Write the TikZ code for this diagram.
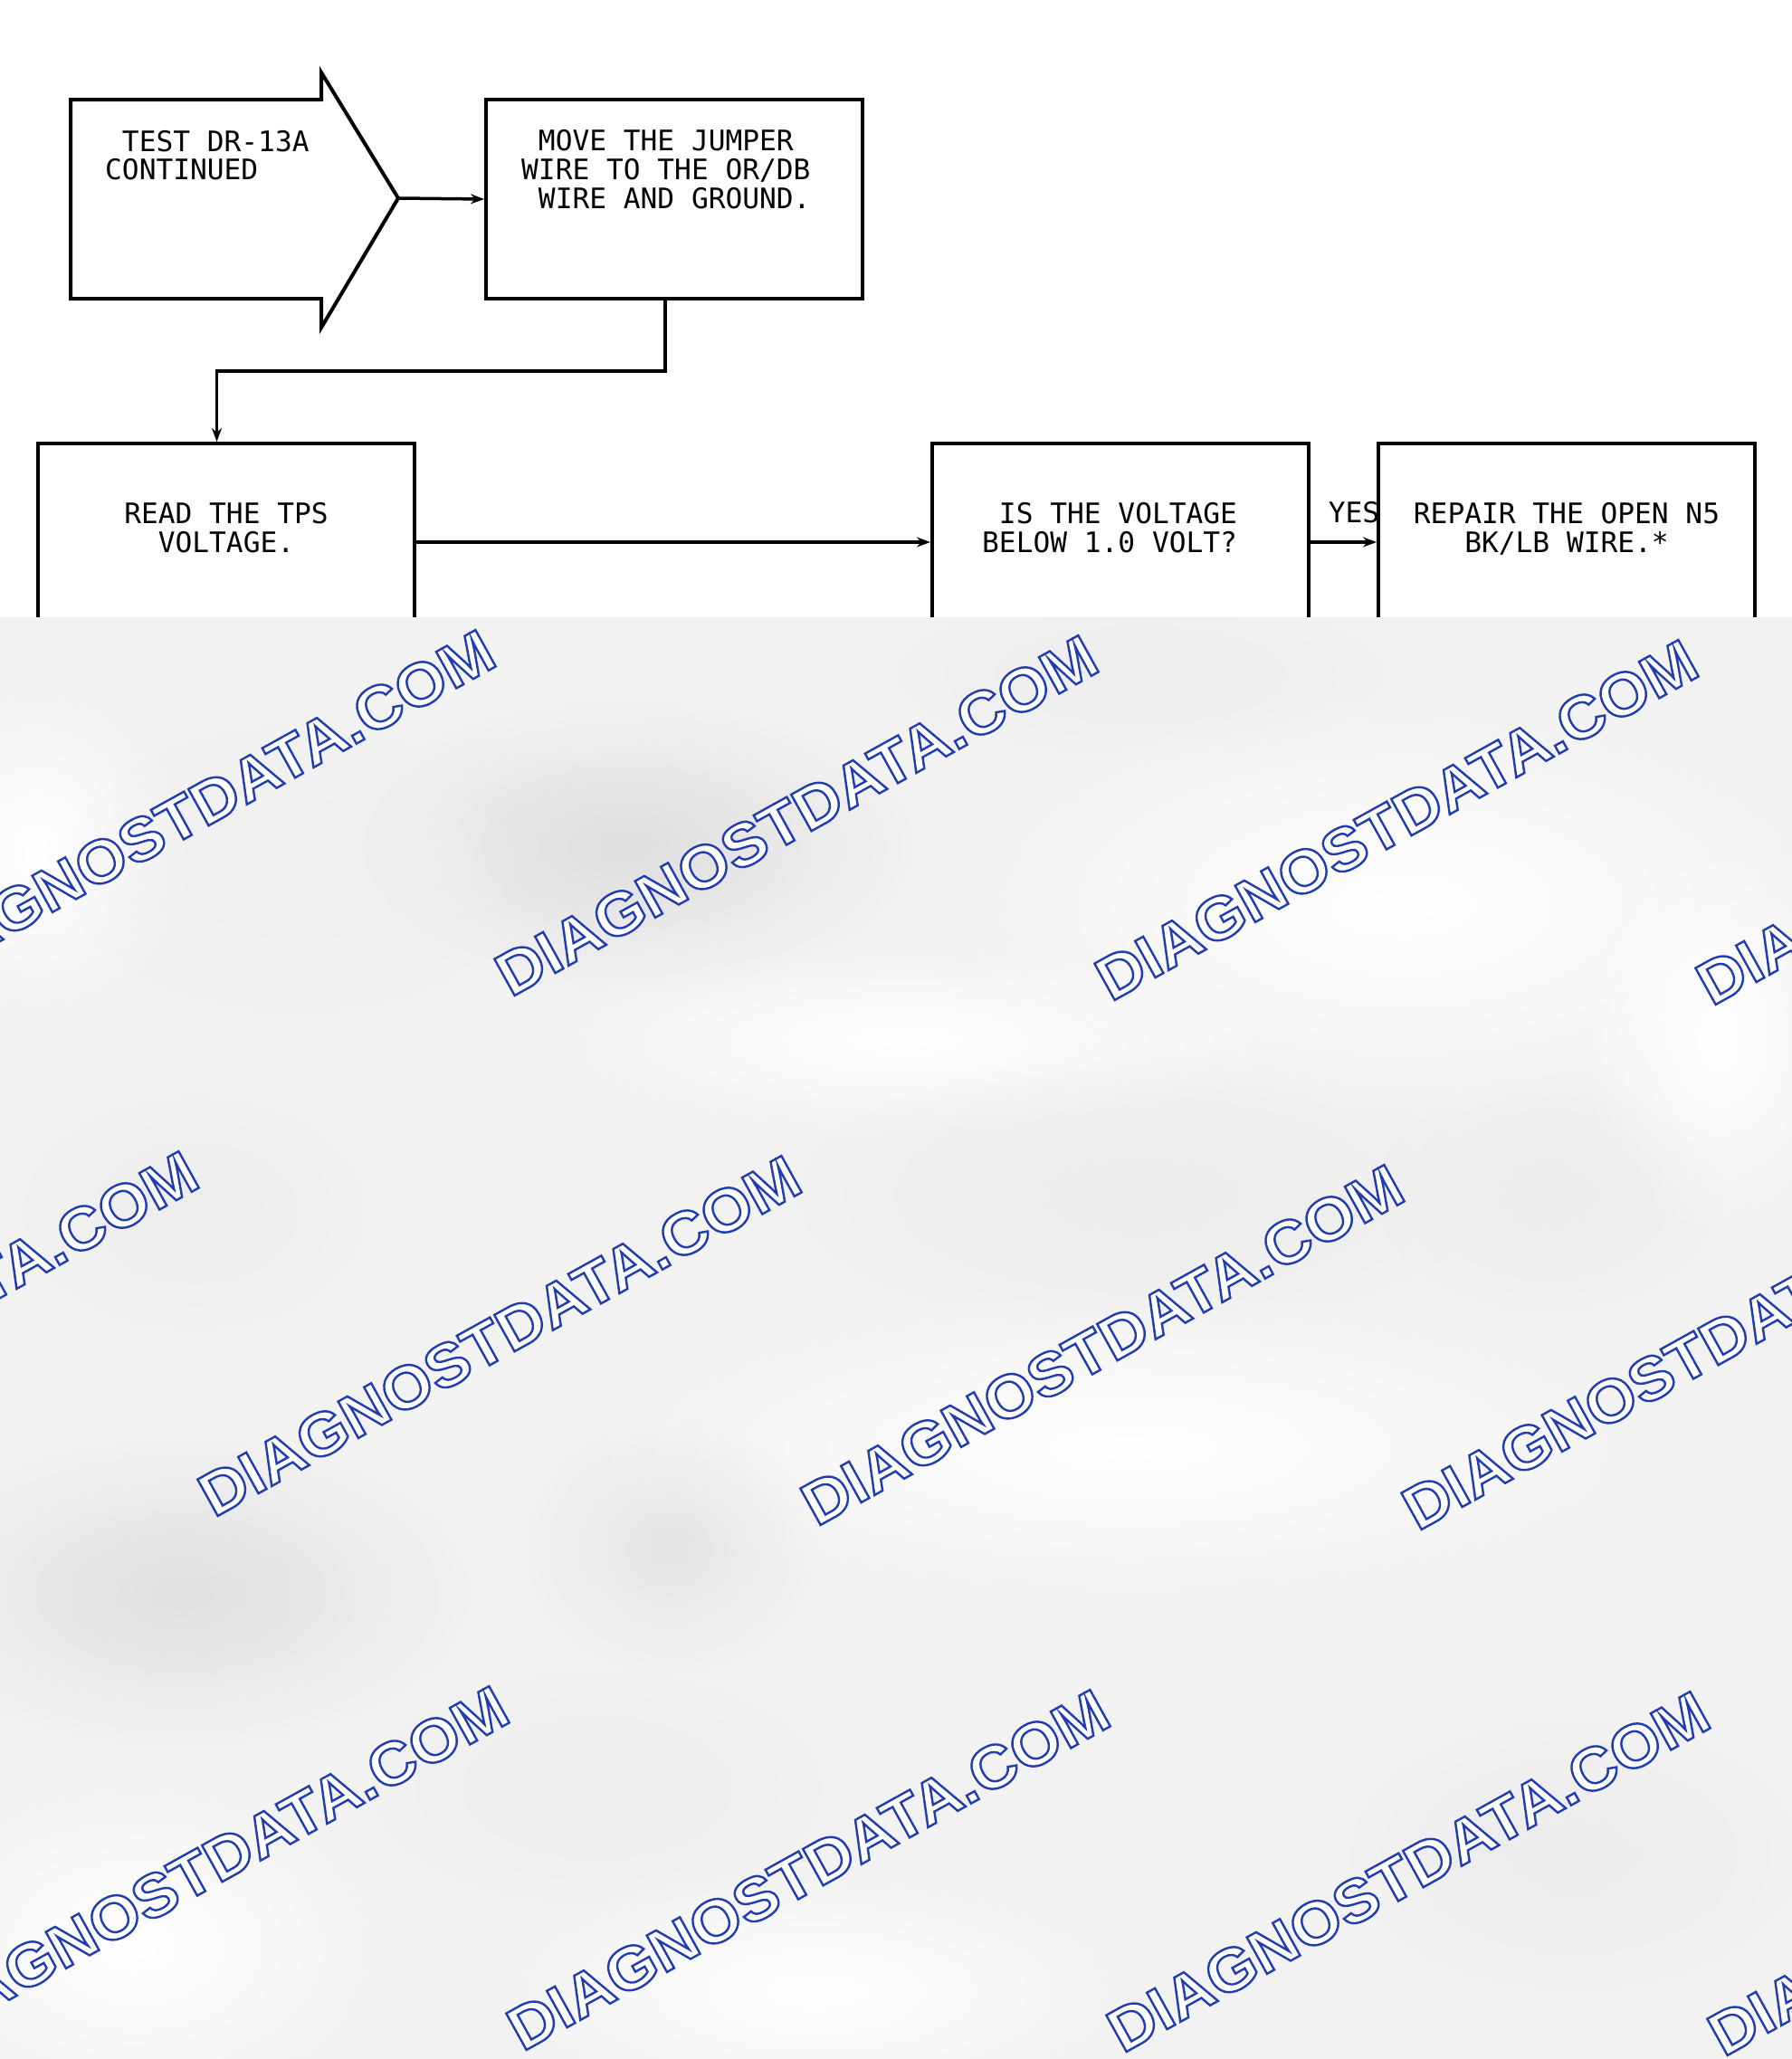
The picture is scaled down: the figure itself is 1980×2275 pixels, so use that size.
\documentclass[tikz,border=0pt]{standalone}
\usepackage{fontspec}
\usetikzlibrary{arrows.meta,fadings}
\newfontfamily\cadfont{DejaVu Sans Mono}
\newfontfamily\wmfont{Liberation Sans Bold}[FakeStretch=1.06,FakeBold=3.6]
\definecolor{wmblue}{RGB}{38,66,178}
\definecolor{bggray}{RGB}{242,242,242}
\newcommand\wmstroke{\special{pdf:literal direct 0.13 0.24 0.68 RG}}
\tikzfading[name=blobfade, inner color=transparent!0, outer color=transparent!100]
\begin{document}
\begin{tikzpicture}[x=1pt,y=-1pt,
  box/.style={draw, line width=4pt, minimum width=416, minimum height=218, inner sep=0},
  outline/.style={draw, line width=4pt, line join=miter},
  conn/.style={line width=3.5pt, -{Stealth[length=15pt,width=11pt]}},
  txt/.style={inner sep=0, font=\cadfont\fontsize{31.2}{32}\selectfont},
  wm/.style={inner sep=0, rotate=29, text=white, font=\wmfont\fontsize{67}{67}\selectfont},
  gblob/.style={fill=black!#1, path fading=blobfade},
  wblob/.style={fill=white, path fading=blobfade}]
\useasboundingbox (0,0) rectangle (1980,2275);
\fill[white] (0,0) rectangle (1980,2275);

% start arrow
\draw[outline] (78,110) -- (355,110) -- (355,80) -- (440,219) -- (355,362) -- (355,330) -- (78,330) -- cycle;
\coordinate (starttip) at (440,219);
\node[txt, anchor=base west] (s1) at (116,167) {\ TEST DR-13A};
\node[txt, anchor=base west] (s2) at (116,198) {CONTINUED};

% boxes
\node[box, minimum height=220] (b2) at (745,220) {};
\node[box] (b3) at (249.5,599) {};
\node[box] (b4) at (1238,599) {};
\node[box] (b5) at (1731,599) {};

\node[txt, anchor=base west] (m1) at (576,166) {\ MOVE THE JUMPER};
\node[txt, anchor=base west] (m2) at (576,198) {WIRE TO THE OR/DB};
\node[txt, anchor=base west] (m3) at (576,230) {\ WIRE AND GROUND.};

\node[txt, anchor=base] (r1) at (250,578) {READ THE TPS};
\node[txt, anchor=base] (r2) at (250,610) {VOLTAGE.};

\node[txt, anchor=base west] (q1) at (1085,578) {\ IS THE VOLTAGE};
\node[txt, anchor=base west] (q2) at (1085,610) {BELOW 1.0 VOLT?};

\node[txt, anchor=base] (p1) at (1731,578) {REPAIR THE OPEN N5};
\node[txt, anchor=base] (p2) at (1731,610) {BK/LB WIRE.*};

\node[txt, anchor=base] (yes) at (1496,577) {YES};

% connectors
\draw[conn] (starttip) -- (b2.west);
\draw[conn] ([xshift=-10pt]b2.south) -- ++(0,78) -| ([xshift=-10pt]b3.north);
\draw[conn] (b3.east) -- (b4.west);
\draw[conn] (b4.east) -- (b5.west);

% watermark layer
\fill[bggray] (0,682) rectangle (1980,2275);
\begin{scope}
\clip (0,682) rectangle (1980,2275);
\fill[wblob] (1550,1000) ellipse [x radius=520, y radius=240];
\fill[wblob] (1000,1150) ellipse [x radius=420, y radius=110];
\fill[wblob] (1250,1600) ellipse [x radius=620, y radius=180];
\fill[wblob] (40,940) ellipse [x radius=170, y radius=200];
\fill[wblob] (900,2200) ellipse [x radius=380, y radius=140];
\fill[wblob] (1900,1150) ellipse [x radius=160, y radius=220];
\fill[wblob] (150,2150) ellipse [x radius=300, y radius=200];
\fill[gblob=13] (690,935) ellipse [x radius=320, y radius=160];
\fill[gblob=6] (330,960) ellipse [x radius=260, y radius=160];
\fill[gblob=12] (200,1760) ellipse [x radius=320, y radius=170];
\fill[gblob=10] (740,1710) ellipse [x radius=160, y radius=140];
\fill[gblob=8] (1260,1320) ellipse [x radius=380, y radius=150];
\fill[gblob=8] (1710,1320) ellipse [x radius=190, y radius=130];
\fill[gblob=7] (215,1340) ellipse [x radius=190, y radius=130];
\fill[gblob=7] (660,1975) ellipse [x radius=250, y radius=130];
\fill[gblob=8] (1740,2050) ellipse [x radius=250, y radius=150];
\fill[gblob=7] (1260,745) ellipse [x radius=270, y radius=90];
\fill[gblob=5] (600,760) ellipse [x radius=210, y radius=90];

\foreach \n/\px/\py in {11/214/895, 12/880/901, 13/1543/906, 14/2207/911,
                        21/-114/1471, 22/552/1476, 23/1218/1486, 24/1882/1491,
                        31/229/2062, 32/893/2066, 33/1556/2068, 34/2220/2072}{
  \node[wm] (w\n) at (\px,\py) {\wmstroke DIAGNOSTDATA.COM};
}
\end{scope}
\end{tikzpicture}
\end{document}
